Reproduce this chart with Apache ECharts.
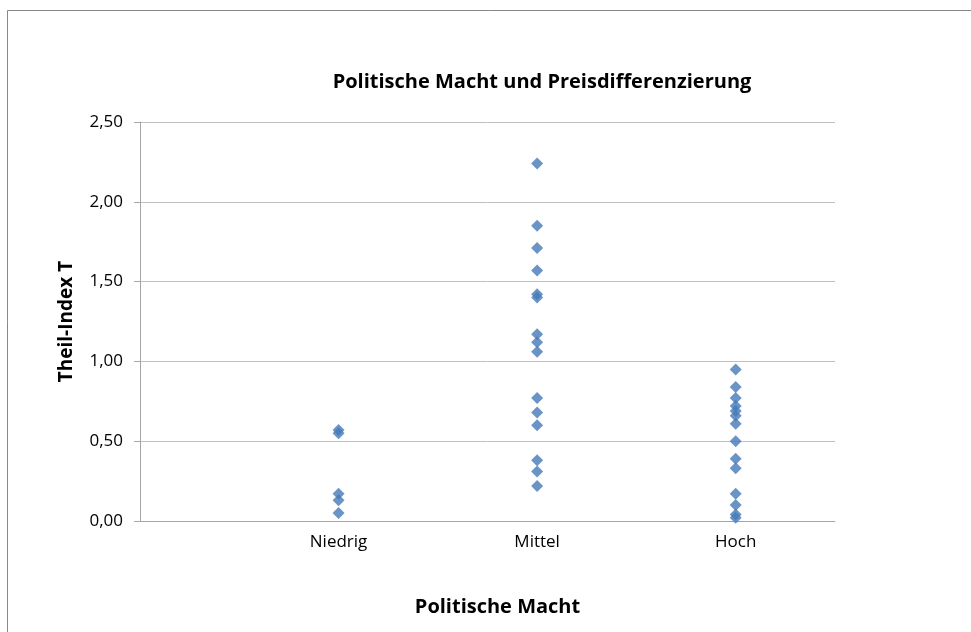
<!DOCTYPE html>
<html>
<head>
<meta charset="utf-8">
<script src="https://cdn.jsdelivr.net/npm/echarts@6/dist/echarts.min.js"></script>
<style>
html,body{margin:0;padding:0;background:#fff;}
#c{width:971px;height:632px;}
</style>
</head>
<body>
<div id="c"></div>
<script>
var categories = ["Niedrig", "Mittel", "Hoch"];
var niedrig = [0.57, 0.55, 0.17, 0.13, 0.05];
var mittel = [2.24, 1.85, 1.71, 1.57, 1.42, 1.40, 1.17, 1.12, 1.06, 0.77, 0.68, 0.60, 0.38, 0.31, 0.22];
var hoch = [0.95, 0.84, 0.77, 0.72, 0.69, 0.66, 0.61, 0.50, 0.39, 0.33, 0.17, 0.10, 0.04, 0.02];
var yTicks = [0, 0.5, 1, 1.5, 2, 2.5];

var groups = [niedrig, mittel, hoch];
var data = [];
groups.forEach(function (arr, i) {
  arr.forEach(function (v) { data.push([i + 1, v]); });
});

var font = "'Open Sans', sans-serif";
var chart = echarts.init(document.getElementById('c'));
chart.setOption({
  animation: false,
  backgroundColor: '#fff',
  title: {
    text: 'Politische Macht und Preisdifferenzierung',
    left: 537, top: 67, textAlign: 'center',
    textStyle: { fontFamily: font, fontSize: 20, fontWeight: 'bold', color: '#000' }
  },
  graphic: [{
    type: 'rect', shape: { x: 7.5, y: 10.5, width: 1000, height: 700 },
    style: { fill: 'none', stroke: '#888', lineWidth: 1 }, silent: true
  }],
  grid: { left: 140, right: 136, top: 122, bottom: 111 },
  xAxis: {
    type: 'value', min: 0, max: 3.5, interval: 1,
    name: 'Politische Macht', nameLocation: 'middle', nameGap: 76,
    nameTextStyle: { fontFamily: font, fontSize: 20, fontWeight: 'bold', color: '#000', padding: [0, 0, 0, 20] },
    axisLine: { lineStyle: { color: '#a6a6a6' } },
    axisTick: { show: false },
    splitLine: { show: false },
    axisLabel: {
      fontFamily: font, fontSize: 17, color: '#000', margin: 13,
      showMaxLabel: false,
      formatter: function (v) { var k = Math.round(v); return (k >= 1 && k <= categories.length) ? categories[k - 1] : ''; }
    }
  },
  yAxis: {
    type: 'value', min: yTicks[0], max: yTicks[yTicks.length - 1], interval: 0.5,
    name: 'Theil-Index T', nameLocation: 'middle', nameGap: 64,
    nameTextStyle: { fontFamily: font, fontSize: 19, fontWeight: 'bold', color: '#000' },
    axisLine: { show: true, lineStyle: { color: '#a6a6a6' } },
    axisTick: { show: true, length: 6, lineStyle: { color: '#a6a6a6' } },
    splitLine: { lineStyle: { color: '#c0c0c0' } },
    axisLabel: {
      fontFamily: font, fontSize: 17, color: '#000', margin: 17,
      formatter: function (v) { return v.toFixed(2).replace('.', ','); }
    }
  },
  series: [{
    type: 'scatter', symbol: 'diamond', symbolSize: 12,
    itemStyle: { color: '#4679b8' },
    data: data
  }]
});
</script>
</body>
</html>
